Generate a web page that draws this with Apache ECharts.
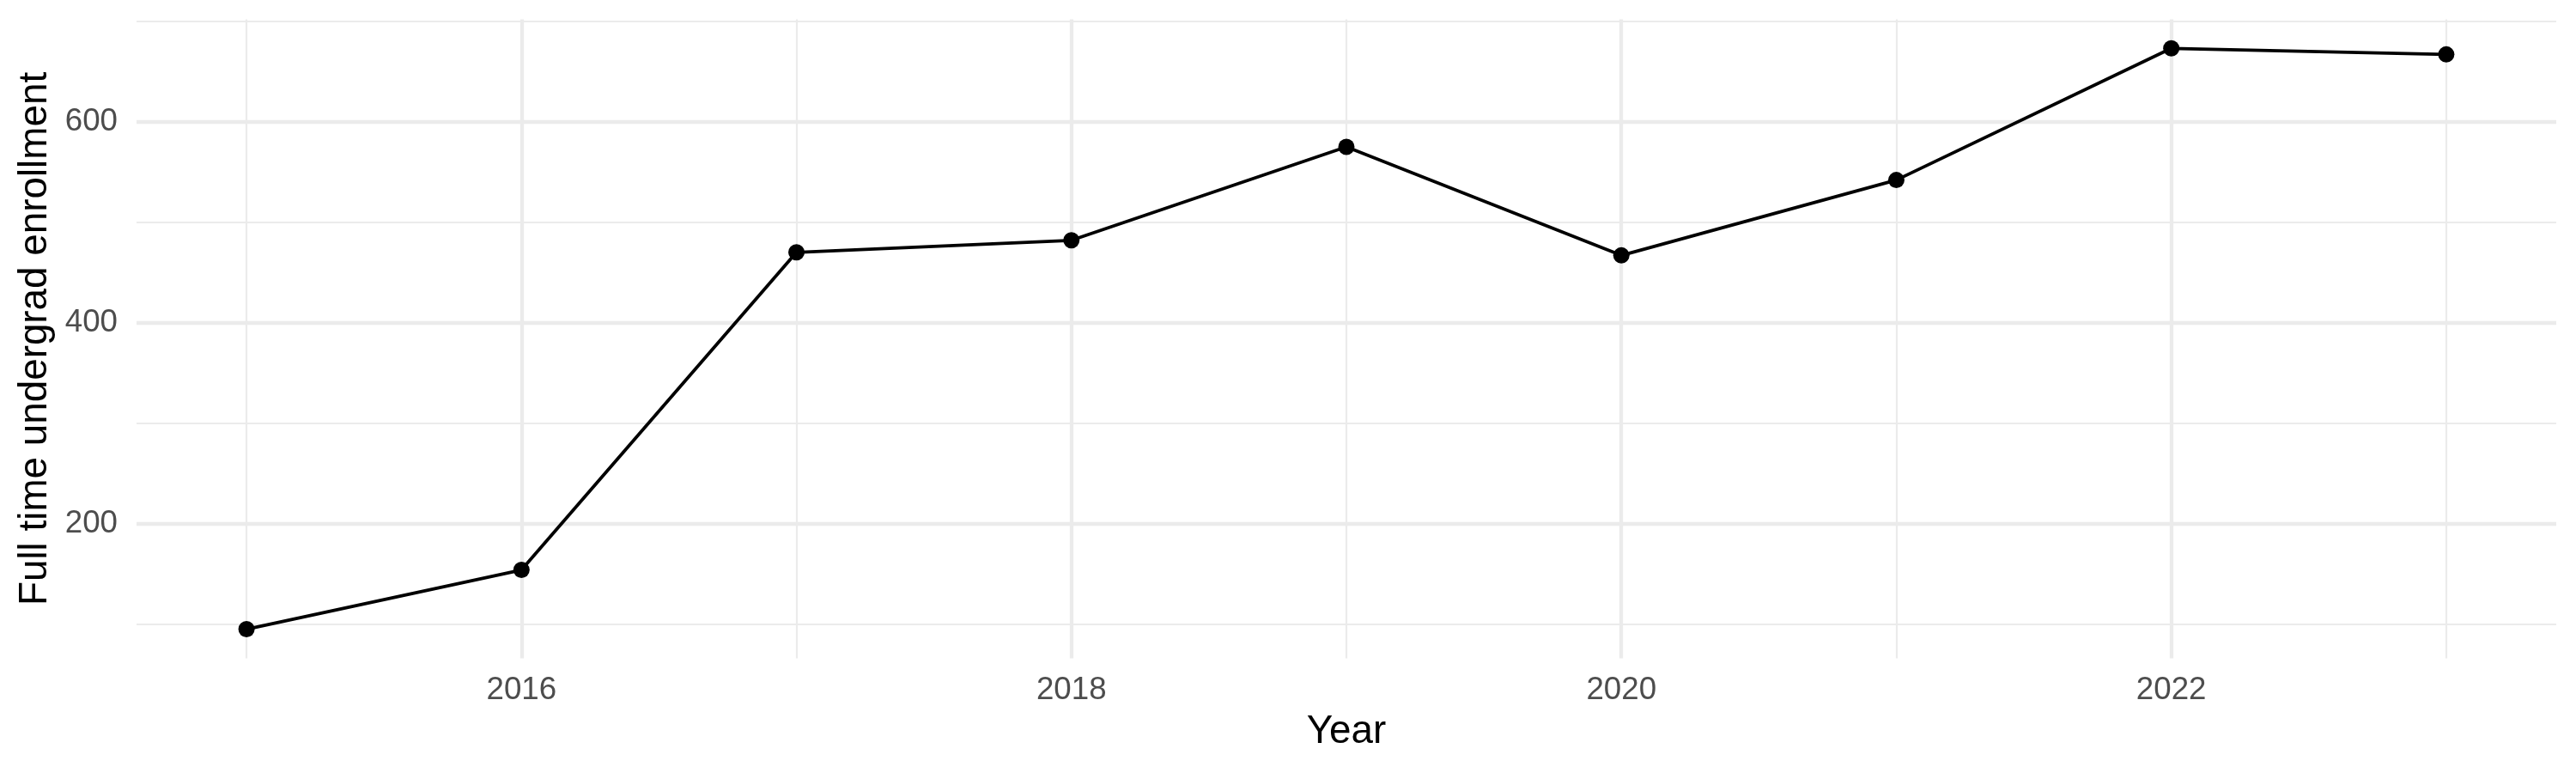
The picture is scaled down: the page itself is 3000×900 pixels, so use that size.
<!DOCTYPE html>
<html>
<head>
<meta charset="utf-8">
<script src="https://cdn.jsdelivr.net/npm/echarts@6/dist/echarts.min.js"></script>
<style>
html,body{margin:0;padding:0;background:#fff;}
#chart{width:3000px;height:900px;}
</style>
</head>
<body>
<div id="chart"></div>
<script>
const years = [2015, 2016, 2017, 2018, 2019, 2020, 2021, 2022, 2023];
const enrollment = [95, 154, 470, 482, 575, 467, 542, 673, 667];
const xMajorTicks = [2016, 2018, 2020, 2022];
const xMinorTicks = [2015, 2017, 2019, 2021, 2023];
const yMajorTicks = [200, 400, 600];
const yMinorTicks = [100, 300, 500, 700];
const xTitle = 'Year';
const yTitle = 'Full time undergrad enrollment';

const FONT = '"Liberation Sans", Arial, Helvetica, sans-serif';
const GRID = '#EBEBEB';
const xMin = 2014.6, xMax = 2023.4, yMin = 66, yMax = 702;

const chart = echarts.init(document.getElementById('chart'), null, {renderer: 'canvas'});
chart.setOption({
  backgroundColor: '#ffffff',
  animation: false,
  grid: {left: 159, right: 23, top: 22.4, bottom: 133.5, containLabel: false, outerBoundsMode: 'none'},
  xAxis: [
    {
      type: 'value', min: xMin, max: xMax,
      axisLine: {show: false},
      axisTick: {show: false, customValues: xMajorTicks},
      axisLabel: {
        customValues: xMajorTicks, color: '#4D4D4D', fontSize: 36.7, fontFamily: FONT,
        verticalAlign: 'middle', margin: 37, formatter: v => String(v)
      },
      splitLine: {show: true, lineStyle: {color: GRID, width: 4.3}},
      name: xTitle, nameLocation: 'middle', nameGap: 86,
      nameTextStyle: {color: '#000000', fontSize: 45.8, fontFamily: FONT, verticalAlign: 'middle'}
    },
    {
      type: 'value', min: xMin, max: xMax, position: 'bottom',
      axisLine: {show: false},
      axisTick: {show: false, customValues: xMinorTicks},
      axisLabel: {show: false, customValues: xMinorTicks},
      splitLine: {show: true, lineStyle: {color: GRID, width: 2.2}}
    }
  ],
  yAxis: [
    {
      type: 'value', min: yMin, max: yMax,
      axisLine: {show: false},
      axisTick: {show: false, customValues: yMajorTicks},
      axisLabel: {
        customValues: yMajorTicks, color: '#4D4D4D', fontSize: 36.7, fontFamily: FONT,
        margin: 22, verticalAlign: 'middle'
      },
      splitLine: {show: true, lineStyle: {color: GRID, width: 4.3}},
      name: yTitle, nameLocation: 'middle', nameGap: 118, nameRotate: 90,
      nameTextStyle: {color: '#000000', fontSize: 45.8, fontFamily: FONT, verticalAlign: 'middle'}
    },
    {
      type: 'value', min: yMin, max: yMax, position: 'left',
      axisLine: {show: false},
      axisTick: {show: false, customValues: yMinorTicks},
      axisLabel: {show: false, customValues: yMinorTicks},
      splitLine: {show: true, lineStyle: {color: GRID, width: 2.2}}
    }
  ],
  series: [{
    type: 'line',
    xAxisIndex: 0, yAxisIndex: 0,
    data: years.map((y, i) => [y, enrollment[i]]),
    symbol: 'circle', symbolSize: 19,
    itemStyle: {color: '#000000'},
    lineStyle: {color: '#000000', width: 3.8},
    z: 5
  }]
});
</script>
</body>
</html>
